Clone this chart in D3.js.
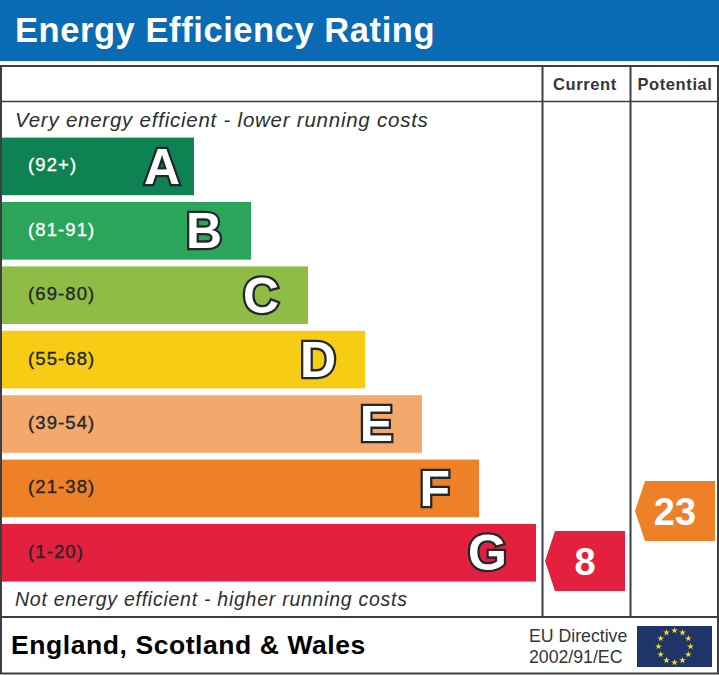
<!DOCTYPE html>
<html>
<head>
<meta charset="utf-8">
<script src="https://cdnjs.cloudflare.com/ajax/libs/d3/7.8.5/d3.min.js"></script>
<style>
  html, body { margin: 0; padding: 0; background: #fff; }
  svg { display: block; }
  text { font-family: "Liberation Sans", Arial, sans-serif; }
</style>
</head>
<body>
<svg id="chart" width="719" height="675"></svg>
<script>
const bands = ['A', 'B', 'C', 'D', 'E', 'F', 'G'];
const bandRanges = ['(92+)', '(81-91)', '(69-80)', '(55-68)', '(39-54)', '(21-38)', '(1-20)'];
const bandSteps = [1, 2, 3, 4, 5, 6, 7];
const bandColors = ['#0f8253', '#2aa55a', '#8fbc45', '#f6cc15', '#f3a96c', '#ee8027', '#e3203e'];
const rangeColors = ['#ffffff', '#ffffff', '#22282c', '#22282c', '#22282c', '#22282c', '#22282c'];

const columns = ['Current', 'Potential'];
const scores = [8, 23];
const scoreColors = ['#e3203e', '#ee8027'];

const euStars = d3.range(12);

const svg = d3.select('#chart');
const width = 719;
const lineColor = '#3c3f42';

// Layout
const x = d3.scaleLinear().domain([1, 7]).range([194, 536]);
const y = d3.scaleBand().domain(bands).range([137.6, 581.6]).paddingInner(0.105).paddingOuter(0);
const scoreY = d3.scaleLinear().domain([8, 23]).range([561, 511]);
const colX = d3.scaleOrdinal().domain(columns).range([545, 635]);

// Header
svg.append('rect').attr('x', 0).attr('y', 0).attr('width', width).attr('height', 61).attr('fill', '#0a6ab3');
svg.append('text').attr('x', 15).attr('y', 42)
  .attr('font-size', 34.5).attr('font-weight', 'bold').attr('fill', '#fff')
  .attr('letter-spacing', 0.57)
  .text('Energy Efficiency Rating');

// Frame
const frame = svg.append('g').attr('fill', 'none').attr('stroke', lineColor).attr('stroke-width', 2);
frame.append('rect').attr('x', 1).attr('y', 66).attr('width', 717).attr('height', 607.5);
frame.append('line').attr('x1', 1).attr('x2', 718).attr('y1', 101.5).attr('y2', 101.5).attr('stroke-width', 1.5);
frame.append('line').attr('x1', 1).attr('x2', 718).attr('y1', 617).attr('y2', 617);
frame.append('line').attr('x1', 542.5).attr('x2', 542.5).attr('y1', 66).attr('y2', 617);
frame.append('line').attr('x1', 630.5).attr('x2', 630.5).attr('y1', 66).attr('y2', 617);

// Column titles
svg.selectAll('.col-title').data(columns).enter().append('text')
  .attr('class', 'col-title')
  .attr('x', d => d === 'Current' ? 585 : 675)
  .attr('y', 90)
  .attr('text-anchor', 'middle')
  .attr('font-size', 16.5).attr('font-weight', 'bold').attr('fill', '#33363a')
  .attr('letter-spacing', 0.6)
  .text(d => d);

// Captions
svg.append('text').attr('x', 15).attr('y', 127)
  .attr('font-size', 20.5).attr('font-style', 'italic').attr('fill', '#2b2e31')
  .attr('letter-spacing', 0.76)
  .text('Very energy efficient - lower running costs');
svg.append('text').attr('x', 15).attr('y', 606)
  .attr('font-size', 19.5).attr('font-style', 'italic').attr('fill', '#2b2e31')
  .attr('letter-spacing', 0.74)
  .text('Not energy efficient - higher running costs');

// Bars
const bar = svg.selectAll('.band').data(bands).enter().append('g').attr('class', 'band');
bar.append('rect')
  .attr('x', 2)
  .attr('y', d => y(d))
  .attr('width', (d, i) => x(bandSteps[i]) - 2)
  .attr('height', y.bandwidth())
  .attr('fill', (d, i) => bandColors[i]);
bar.append('text')
  .attr('x', 28)
  .attr('y', d => y(d) + y.bandwidth() / 2 + 5)
  .attr('font-size', 18.5)
  .attr('letter-spacing', 1.1)
  .attr('fill', (d, i) => rangeColors[i])
  .attr('stroke', (d, i) => rangeColors[i])
  .attr('stroke-width', 0.35)
  .text((d, i) => bandRanges[i]);
// A sits closer to the end of its bar than the other letters
bar.append('text')
  .attr('x', (d, i) => x(bandSteps[i]) - (i === 0 ? 14 : 29))
  .attr('y', d => y(d) + y.bandwidth() / 2 + 17.5)
  .attr('text-anchor', 'end')
  .attr('font-size', 50).attr('font-weight', 'bold')
  .attr('fill', '#fff').attr('stroke', '#22282c').attr('stroke-width', 4.6)
  .attr('paint-order', 'stroke')
  .text(d => d);

// Score arrows
const arrow = svg.selectAll('.score').data(scores).enter().append('g')
  .attr('class', 'score')
  .attr('transform', (d, i) => `translate(${colX(columns[i])},${scoreY(d)})`);
arrow.append('path')
  .attr('d', d3.line()([[0, 0], [10, -30], [80, -30], [80, 30], [10, 30]]) + 'Z')
  .attr('fill', (d, i) => scoreColors[i]);
arrow.append('text')
  .attr('x', 40)
  .attr('y', 14)
  .attr('text-anchor', 'middle')
  .attr('font-size', 38).attr('font-weight', 'bold').attr('fill', '#fff')
  .text(d => d);

// Footer
svg.append('text').attr('x', 11).attr('y', 654)
  .attr('font-size', 26.5).attr('font-weight', 'bold').attr('fill', '#000')
  .attr('letter-spacing', 0.57)
  .text('England, Scotland & Wales');
svg.append('text').attr('x', 529).attr('y', 642)
  .attr('font-size', 17.7).attr('fill', '#33363a').text('EU Directive');
svg.append('text').attr('x', 529).attr('y', 663)
  .attr('font-size', 17.7).attr('fill', '#33363a').text('2002/91/EC');

// EU flag
const flag = svg.append('g').attr('transform', 'translate(637,626)');
flag.append('rect').attr('width', 75).attr('height', 41).attr('fill', '#1f3468');
const starAngle = d3.scaleLinear().domain([0, 12]).range([0, 2 * Math.PI]);
flag.selectAll('path').data(euStars).enter().append('path')
  .attr('d', d3.symbol(d3.symbolStar, 14))
  .attr('fill', '#f5dc1a')
  .attr('transform', d => `translate(${37.5 + 16 * Math.sin(starAngle(d))},${20.5 - 16 * Math.cos(starAngle(d))})`);
</script>
</body>
</html>
